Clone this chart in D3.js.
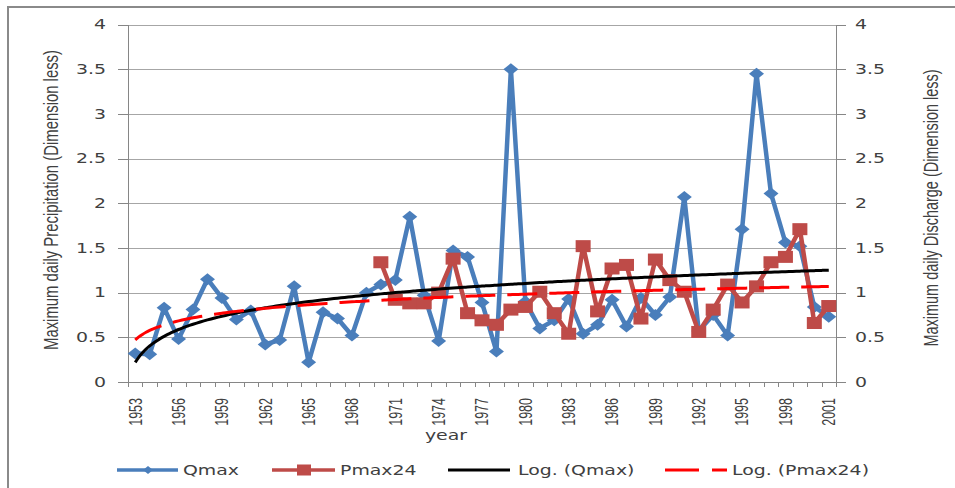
<!DOCTYPE html>
<meta charset="utf-8">
<script src="https://d3js.org/d3.v7.min.js"></script>
<style>
  body { margin: 0; background: #ffffff; }
  text { font-family: "DejaVu Sans", sans-serif; fill: #404040; }
</style>
<body>
<div id="my_dataviz"></div>
<script>

// categories (one per year)
var years = [1953, 1954, 1955, 1956, 1957, 1958, 1959, 1960, 1961, 1962,
             1963, 1964, 1965, 1966, 1967, 1968, 1969, 1970, 1971, 1972,
             1973, 1974, 1975, 1976, 1977, 1978, 1979, 1980, 1981, 1982,
             1983, 1984, 1985, 1986, 1987, 1988, 1989, 1990, 1991, 1992,
             1993, 1994, 1995, 1996, 1997, 1998, 1999, 2000, 2001];

// Qmax (blue diamonds)
var qmax = [0.32, 0.31, 0.83, 0.48, 0.81, 1.15, 0.94, 0.70, 0.80, 0.42,
            0.47, 1.07, 0.22, 0.78, 0.71, 0.52, 1.00, 1.09, 1.14, 1.85,
            0.97, 0.46, 1.47, 1.40, 0.89, 0.34, 3.50, 0.90, 0.60, 0.69,
            0.93, 0.54, 0.64, 0.92, 0.62, 0.94, 0.75, 0.95, 2.07, 0.57,
            0.75, 0.52, 1.71, 3.45, 2.11, 1.56, 1.52, 0.84, 0.73];

// Pmax24 (red squares), no values before 1970
var pmax24 = [null, null, null, null, null, null, null, null, null, null,
              null, null, null, null, null, null, null, 1.34, 0.92, 0.88,
              0.88, 1.00, 1.38, 0.77, 0.69, 0.64, 0.81, 0.84, 1.01, 0.77,
              0.54, 1.52, 0.79, 1.27, 1.31, 0.71, 1.37, 1.14, 1.01, 0.56,
              0.81, 1.09, 0.89, 1.07, 1.34, 1.40, 1.71, 0.66, 0.85];

// logarithmic trendlines: y = a*ln(n) + b, n = 1..49
var trendQmax = [0.265, 0.22];
var trendPmax24 = [0.154, 0.47];

// tick labels
var yearLabels = [1953, 1956, 1959, 1962, 1965, 1968, 1971, 1974, 1977,
                  1980, 1983, 1986, 1989, 1992, 1995, 1998, 2001];
var yTicks = [0, 0.5, 1, 1.5, 2, 2.5, 3, 3.5, 4];

var blue = "#4A7EBB", red = "#BE4B48";
var sx = 1.4; // the original picture is stretched sideways

var width = 955, height = 488;
var plotLeft = 128, plotRight = 836, plotTop = 24.5, plotBottom = 382;

var svg = d3.select("#my_dataviz")
  .append("svg")
    .attr("width", width)
    .attr("height", height);

// frame of the chart (only left and top edges visible)
svg.append("path")
  .attr("d", "M8,488 L8,7 L955,7")
  .attr("fill", "none")
  .attr("stroke", "#8a8a8a")
  .attr("stroke-width", 2);

var x = d3.scaleBand().domain(years).range([plotLeft, plotRight]);
var bw = x.bandwidth();
function cx(yr) { return x(yr) + bw / 2; }
var xn = d3.scaleLinear().domain([1, years.length]).range([cx(years[0]), cx(years[years.length - 1])]);
var y = d3.scaleLinear().domain([0, 4]).range([plotBottom, plotTop]);

// gridlines
svg.append("g")
  .selectAll("line")
  .data(yTicks.filter(function(d) { return d > 0; }))
  .join("line")
    .attr("x1", plotLeft).attr("x2", plotRight)
    .attr("y1", function(d) { return Math.round(y(d)) + 0.5; })
    .attr("y2", function(d) { return Math.round(y(d)) + 0.5; })
    .attr("stroke", "#a6a6a6")
    .attr("stroke-width", 1);

// axes
function styleAxis(g) {
  g.selectAll("path, line").attr("stroke", "#868686").attr("shape-rendering", "crispEdges");
  g.selectAll("text").remove();
}
svg.append("g")
  .attr("transform", "translate(" + plotLeft + ",0)")
  .call(d3.axisLeft(y).tickValues(yTicks).tickSize(10).tickSizeOuter(0).tickFormat(""))
  .call(styleAxis);
svg.append("g")
  .attr("transform", "translate(" + plotRight + ",0)")
  .call(d3.axisRight(y).tickValues(yTicks).tickSize(10).tickSizeOuter(0).tickFormat(""))
  .call(styleAxis);
var xb = d3.scaleLinear().domain([0, years.length]).range([plotLeft, plotRight]);
svg.append("g")
  .attr("transform", "translate(0," + plotBottom + ")")
  .call(d3.axisBottom(xb).tickValues(d3.range(years.length + 1)).tickSize(5).tickSizeOuter(0).tickFormat(""))
  .call(styleAxis);

// y tick labels, both sides
svg.append("g")
  .selectAll("text")
  .data(yTicks)
  .join("text")
    .attr("transform", function(d) { return "translate(106," + y(d) + ") scale(" + sx + ",1)"; })
    .attr("dy", "0.35em")
    .attr("text-anchor", "end")
    .style("font-size", "13.5px")
    .text(function(d) { return d; });
svg.append("g")
  .selectAll("text")
  .data(yTicks)
  .join("text")
    .attr("transform", function(d) { return "translate(855," + y(d) + ") scale(" + sx + ",1)"; })
    .attr("dy", "0.35em")
    .attr("text-anchor", "start")
    .style("font-size", "13.5px")
    .text(function(d) { return d; });

// x tick labels (rotated)
svg.append("g")
  .selectAll("text")
  .data(yearLabels)
  .join("text")
    .attr("transform", function(d) { return "translate(" + cx(d) + ",398) scale(" + sx + ",1) rotate(-90)"; })
    .attr("dy", "0.36em")
    .attr("text-anchor", "end")
    .style("font-family", "'Liberation Sans', sans-serif")
    .style("font-size", "12.5px")
    .text(function(d) { return d; });

// axis titles
svg.append("text")
  .attr("transform", "translate(446,440) scale(" + sx + ",1)")
  .attr("text-anchor", "middle")
  .style("font-size", "13.5px")
  .text("year");
svg.append("text")
  .attr("transform", "translate(58,200) scale(" + sx + ",1) rotate(-90)")
  .attr("text-anchor", "middle")
  .attr("textLength", 300)
  .attr("lengthAdjust", "spacingAndGlyphs")
  .style("font-family", "'Liberation Sans', sans-serif")
  .style("font-size", "15px")
  .text("Maximum daily Precipitation (Dimension less)");
svg.append("text")
  .attr("transform", "translate(938,208) scale(" + sx + ",1) rotate(-90)")
  .attr("text-anchor", "middle")
  .attr("textLength", 277)
  .attr("lengthAdjust", "spacingAndGlyphs")
  .style("font-family", "'Liberation Sans', sans-serif")
  .style("font-size", "15px")
  .text("Maximum daily Discharge (Dimension less)");

// series
var qData = years.map(function(yr, i) { return {year: yr, v: qmax[i]}; });
var pData = years.map(function(yr, i) { return {year: yr, v: pmax24[i]}; })
  .filter(function(d) { return d.v != null; });

var line = d3.line()
  .x(function(d) { return cx(d.year); })
  .y(function(d) { return y(d.v); });

function diamond(w, h) {
  return "M0," + (-h / 2) + " L" + (w / 2) + ",0 L0," + (h / 2) + " L" + (-w / 2) + ",0 Z";
}

svg.append("path")
  .datum(qData)
  .attr("d", line)
  .attr("fill", "none")
  .attr("stroke", blue)
  .attr("stroke-width", 4.5)
  .attr("stroke-linejoin", "round");
svg.append("g")
  .selectAll("path")
  .data(qData)
  .join("path")
    .attr("transform", function(d) { return "translate(" + cx(d.year) + "," + y(d.v) + ")"; })
    .attr("d", diamond(15, 12))
    .attr("fill", blue);

svg.append("path")
  .datum(pData)
  .attr("d", line)
  .attr("fill", "none")
  .attr("stroke", red)
  .attr("stroke-width", 4.5)
  .attr("stroke-linejoin", "round");
svg.append("g")
  .selectAll("rect")
  .data(pData)
  .join("rect")
    .attr("x", function(d) { return cx(d.year) - 7.5; })
    .attr("y", function(d) { return y(d.v) - 6; })
    .attr("width", 15)
    .attr("height", 12)
    .attr("fill", red);

// trendlines
function trendPoints(c) {
  var pts = [];
  for (var n = 1; n <= years.length; n += 0.25) pts.push([xn(n), y(c[0] * Math.log(n) + c[1])]);
  return pts;
}
svg.append("path")
  .attr("d", d3.line().curve(d3.curveMonotoneX)(trendPoints(trendQmax)))
  .attr("fill", "none")
  .attr("stroke", "#000000")
  .attr("stroke-width", 3);
svg.append("path")
  .attr("d", d3.line().curve(d3.curveMonotoneX)(trendPoints(trendPmax24)))
  .attr("fill", "none")
  .attr("stroke", "#ff0000")
  .attr("stroke-width", 3)
  .attr("stroke-dasharray", "30,12");

// legend
var ly = 470;
var legend = svg.append("g");
legend.append("line").attr("x1", 117).attr("x2", 178).attr("y1", ly).attr("y2", ly)
  .attr("stroke", blue).attr("stroke-width", 3.5);
legend.append("path").attr("transform", "translate(148," + ly + ")").attr("d", diamond(10, 8)).attr("fill", blue);
legend.append("line").attr("x1", 272).attr("x2", 335).attr("y1", ly).attr("y2", ly)
  .attr("stroke", red).attr("stroke-width", 3.5);
legend.append("rect").attr("x", 297).attr("y", ly - 5.5).attr("width", 14).attr("height", 11).attr("fill", red);
legend.append("line").attr("x1", 448).attr("x2", 510).attr("y1", ly).attr("y2", ly)
  .attr("stroke", "#000000").attr("stroke-width", 3);
legend.append("line").attr("x1", 665).attr("x2", 727).attr("y1", ly).attr("y2", ly)
  .attr("stroke", "#ff0000").attr("stroke-width", 3).attr("stroke-dasharray", "34,13");

var legendText = [[183, "Qmax"], [340, "Pmax24"], [518, "Log. (Qmax)"], [732, "Log. (Pmax24)"]];
legend.selectAll("text")
  .data(legendText)
  .join("text")
    .attr("transform", function(d) { return "translate(" + d[0] + "," + (ly + 5) + ") scale(" + sx + ",1)"; })
    .style("font-size", "13.5px")
    .text(function(d) { return d[1]; });

</script>
</body>
